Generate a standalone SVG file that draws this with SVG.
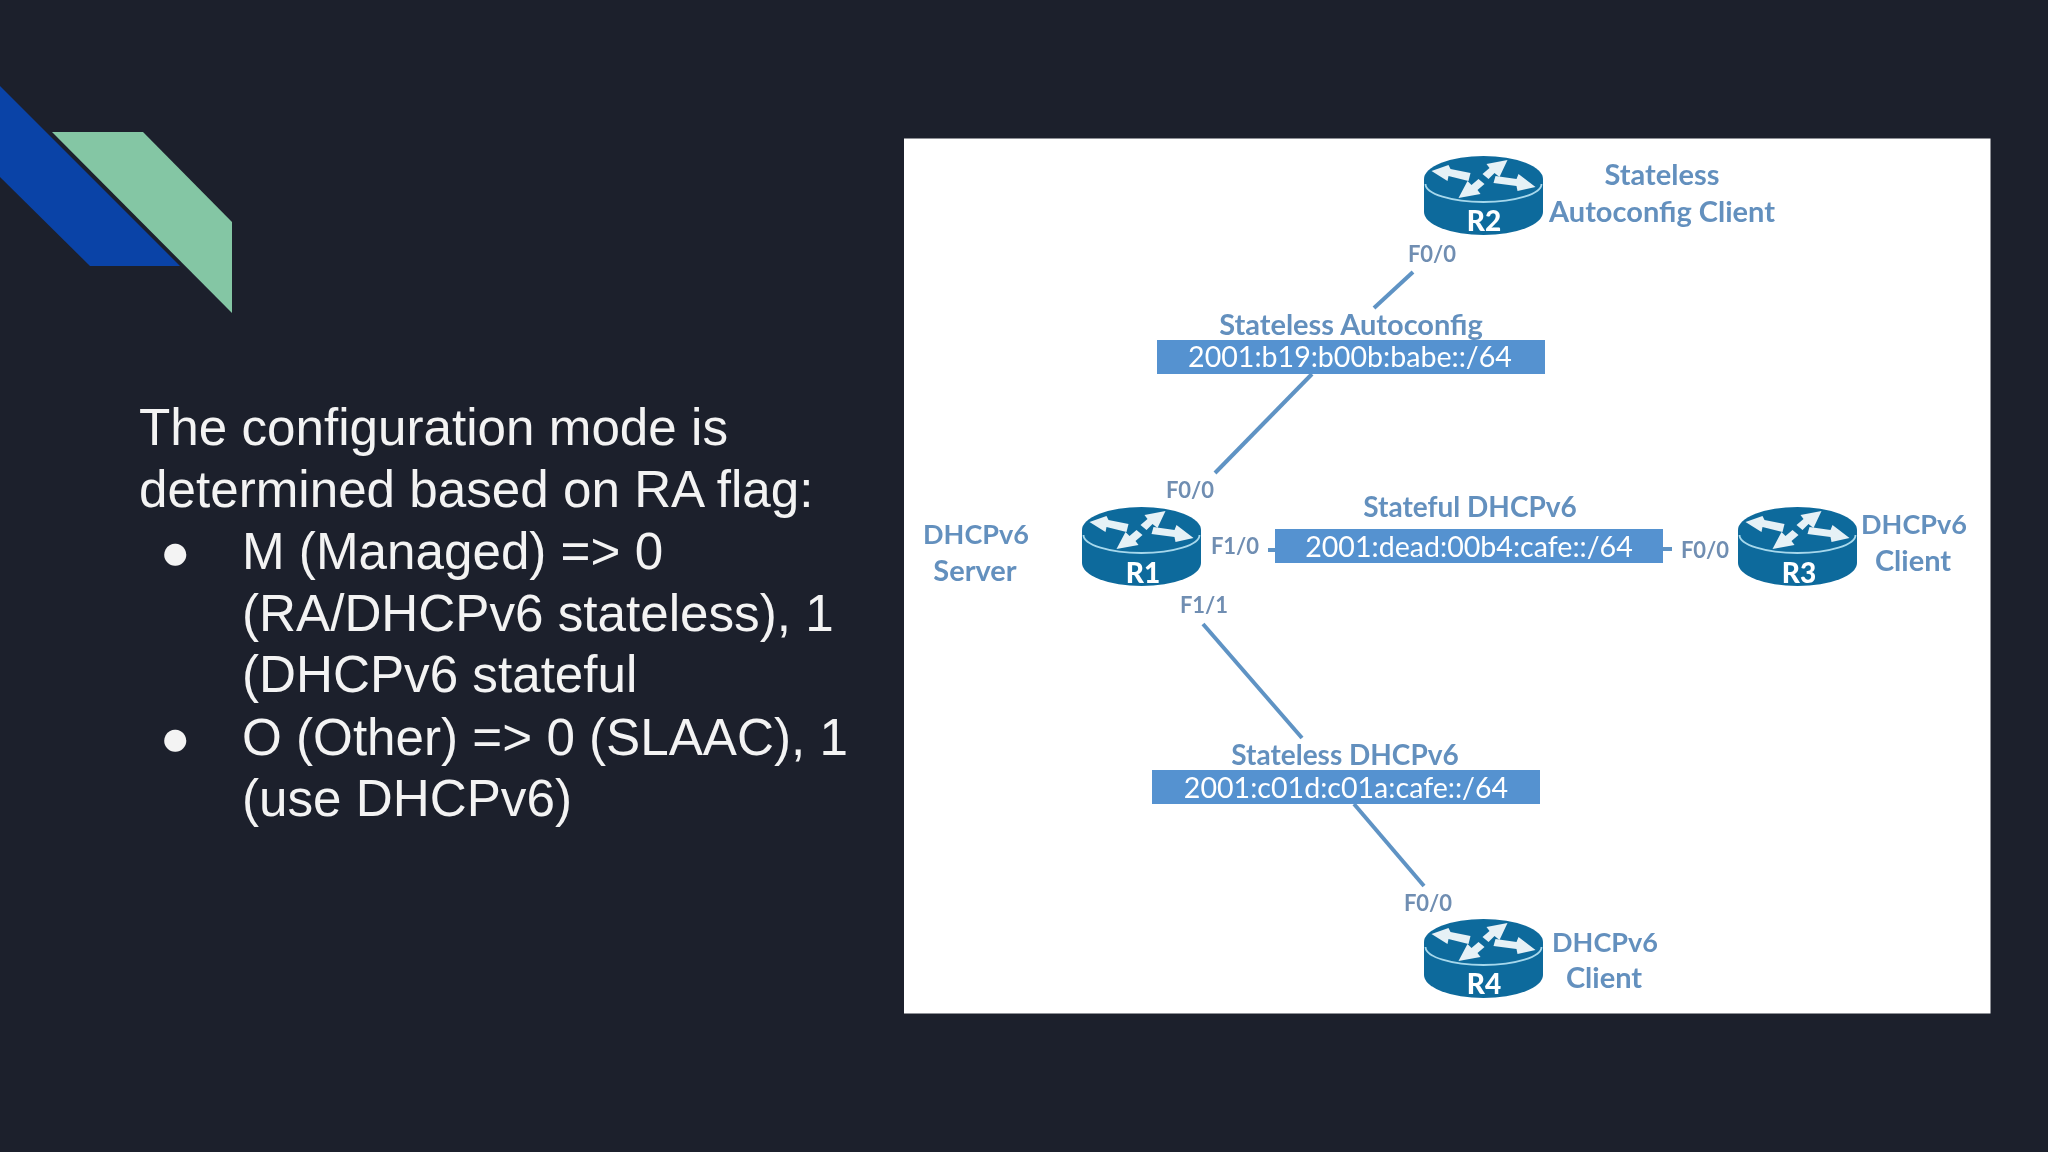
<svg xmlns="http://www.w3.org/2000/svg" width="2048" height="1152" viewBox="0 0 2048 1152">
<style>
.body{font-family:"Liberation Sans",Arial,sans-serif;font-size:51.200px;fill:#f3f3f3}
.lb{font-family:"Lato","Liberation Sans",sans-serif;font-weight:700;fill:#6490be;text-anchor:middle}
.big{font-size:29px}
.mid{font-size:28px}
.dh{font-size:27px}
.port{font-size:22px;fill:#708eb2}
.ip{font-family:"Lato","Liberation Sans",sans-serif;font-size:28.600px;fill:#fff;text-anchor:middle}
.rn{font-family:"Lato","Liberation Sans",sans-serif;font-weight:900;font-size:28px;fill:#fff;text-anchor:middle}
.box{fill:#5592d0}
.conn{stroke:#5f93c4;stroke-width:4;fill:none}
</style>
<defs>
<filter id="soft" x="0" y="0" width="1" height="1"><feGaussianBlur stdDeviation="0.6"/></filter>
<g id="router">
<path d="M-59.500 0V33A59.500 23 0 0 0 59.500 33V0Z" fill="#0f6a9c"/>
<ellipse cx="0" cy="0" rx="59.500" ry="23" fill="#0f6a9c"/>
<path d="M-58 5A58 18 0 0 0 58 5" fill="none" stroke="#a6d8ec" stroke-width="1.800"/>
<g fill="#e6f1f6">
<polygon points="-52,-8 -35,-14 -33,-10 -13,-6 -15,2 -35,-3 -36,2"/>
<polygon points="24,-19 16,-2 11,-6 5,0 -1,-5 6,-11 3,-15"/>
<polygon points="52,8 34,12 33,7 10,4 12,-3 33,0 35,-5"/>
<polygon points="-25,19 -16,2 -12,6 -5,0 1,5 -6,11 -3,15"/>
</g>
</g>
</defs>
<rect id="bg" width="2048" height="1152" fill="#1c202c"/>
<polygon id="accent-blue" points="0,86 180,266 90,266 0,177" fill="#0a43a7"/>
<polygon id="accent-green" points="52,132 143,132 232,222 232,313" fill="#84c6a4"/>
<g id="slide-text" class="body">
<text x="139" y="445">The configuration mode is</text>
<text x="139" y="507">determined based on RA flag:</text>
<text x="160" y="569">●</text>
<text x="242" y="569">M (Managed) =&gt; 0</text>
<text x="242" y="631">(RA/DHCPv6 stateless), 1</text>
<text x="242" y="692">(DHCPv6 stateful</text>
<text x="160" y="755">●</text>
<text x="242" y="755">O (Other) =&gt; 0 (SLAAC), 1</text>
<text x="242" y="816">(use DHCPv6)</text>
</g>
<rect id="figure" x="904" y="138.500" width="1086.500" height="875" fill="#fff"/>
<g id="figure-content" filter="url(#soft)">
<g id="connectors" class="conn">
<path d="M1413 272L1374 308"/>
<path d="M1312 374L1215 473"/>
<path d="M1268 550H1275"/>
<path d="M1663 549H1672"/>
<path d="M1203 624L1302 738"/>
<path d="M1354 804L1424 886"/>
</g>
<g id="R2"><use href="#router" x="1483.500" y="179"/><text class="rn" x="1484" y="231">R2</text></g>
<g id="R1"><use href="#router" x="1141.500" y="530"/><text class="rn" x="1143" y="583">R1</text></g>
<g id="R3"><use href="#router" x="1797.500" y="530"/><text class="rn" x="1799" y="583">R3</text></g>
<g id="R4"><use href="#router" x="1483.500" y="942"/><text class="rn" x="1484" y="994">R4</text></g>
<g id="net-stateless-autoconfig">
<text class="lb big" x="1351" y="335">Stateless Autoconfig</text>
<rect class="box" x="1157" y="340" width="388" height="34"/>
<text class="ip" x="1350" y="367">2001:b19:b00b:babe::/64</text>
</g>
<g id="net-stateful">
<text class="lb mid" x="1470" y="517">Stateful DHCPv6</text>
<rect class="box" x="1275" y="529" width="388" height="34"/>
<text class="ip" x="1469" y="557">2001:dead:00b4:cafe::/64</text>
</g>
<g id="net-stateless-dhcp">
<text class="lb mid" x="1345" y="765">Stateless DHCPv6</text>
<rect class="box" x="1152" y="770" width="388" height="34"/>
<text class="ip" x="1346" y="798">2001:c01d:c01a:cafe::/64</text>
</g>
<g id="labels">
<text class="lb big" x="1662" y="185">Stateless</text>
<text class="lb big" x="1662" y="222">Autoconfig Client</text>
<text class="lb dh" x="976" y="544">DHCPv6</text>
<text class="lb big" x="975" y="581">Server</text>
<text class="lb dh" x="1914" y="534">DHCPv6</text>
<text class="lb big" x="1913" y="571">Client</text>
<text class="lb dh" x="1605" y="952">DHCPv6</text>
<text class="lb big" x="1604" y="988">Client</text>
<text class="lb port" x="1432" y="262">F0/0</text>
<text class="lb port" x="1190" y="498">F0/0</text>
<text class="lb port" x="1235" y="554">F1/0</text>
<text class="lb port" x="1204" y="613">F1/1</text>
<text class="lb port" x="1705" y="558">F0/0</text>
<text class="lb port" x="1428" y="911">F0/0</text>
</g>
</g>
</svg>
